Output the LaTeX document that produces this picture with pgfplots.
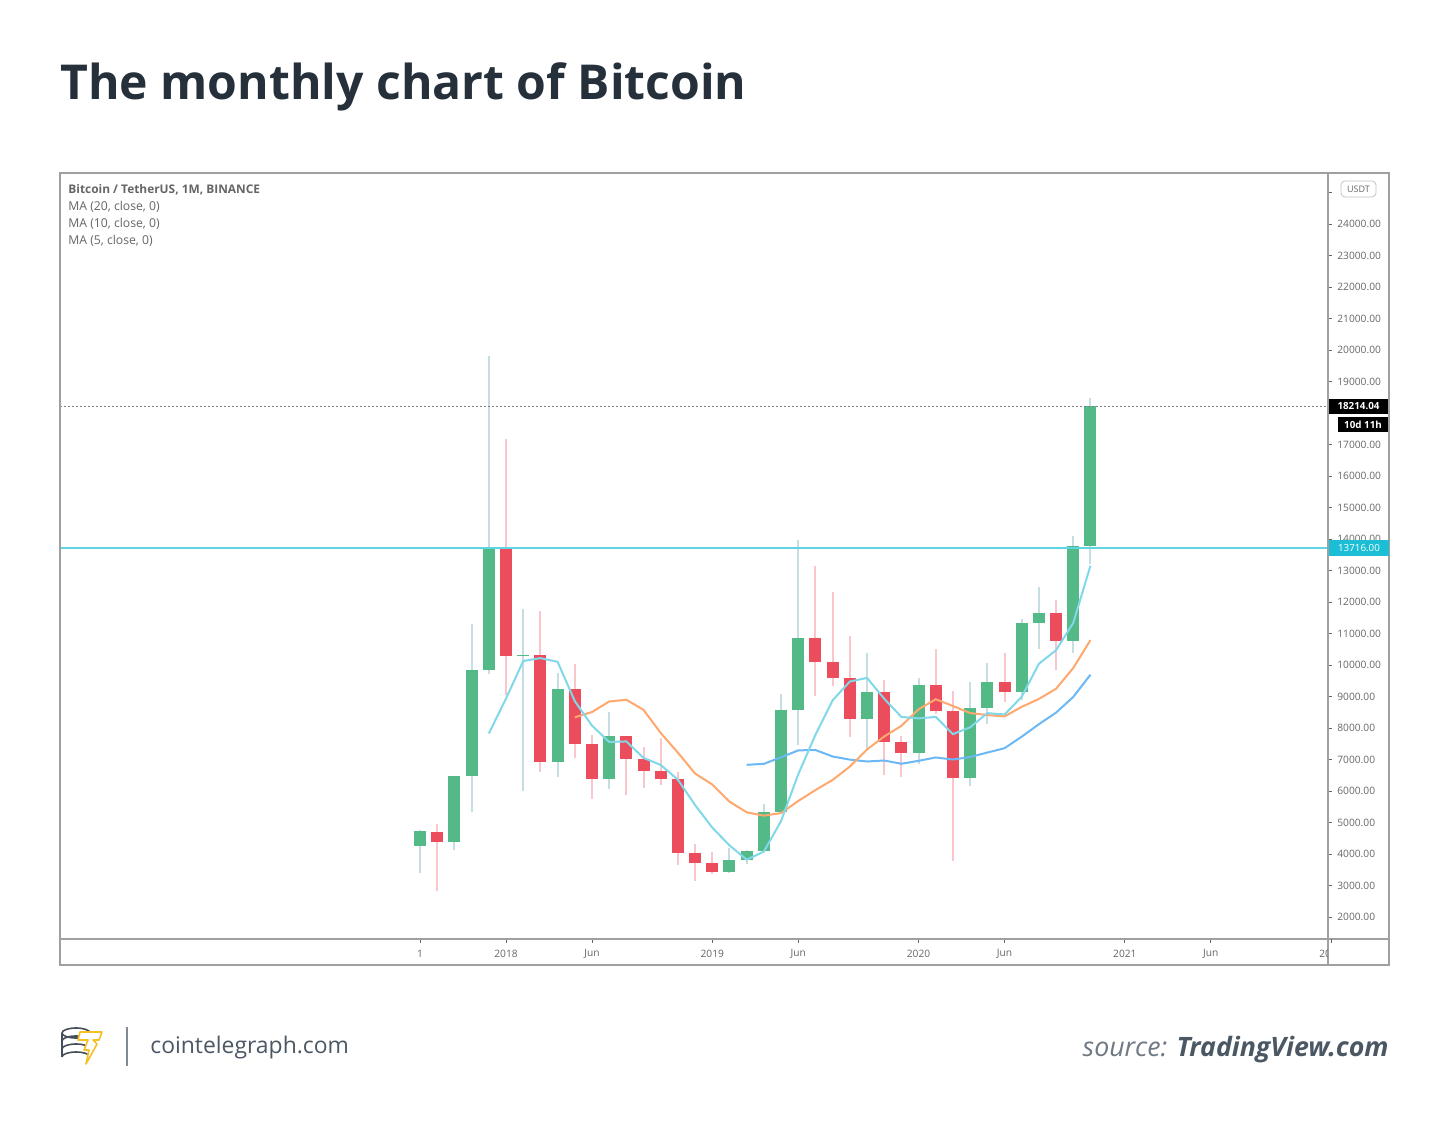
\documentclass[border=0pt]{standalone}
\usepackage{fontspec}
\setmainfont{Open Sans}
\usepackage{pgfplots}
\usepackage{pgfplotstable}
\pgfplotsset{compat=1.18}
\definecolor{titlec}{HTML}{25303A}
\definecolor{bodyG}{HTML}{53B987}
\definecolor{bodyR}{HTML}{EB4D5C}
\definecolor{wickG}{HTML}{C6DEE2}
\definecolor{wickR}{HTML}{F9C6CC}
\definecolor{maF}{HTML}{80D8E8}
\definecolor{maM}{HTML}{FFA86E}
\definecolor{maS}{HTML}{6CB8F5}
\definecolor{hline}{HTML}{5FD4E2}
\definecolor{frame}{HTML}{A0A0A0}
\definecolor{lab}{HTML}{666666}
\definecolor{foot}{HTML}{4B5864}
\definecolor{cybox}{HTML}{1CBED6}
\definecolor{logoY}{HTML}{F5C024}

\pgfplotstableread{
m o h l c
-5 4261.48 4745.42 3400.00 4724.89
-3 4378.51 6470.00 4110.00 6463.00
-2 6463.00 11300.03 5325.01 9838.96
-1 9837.00 19798.68 9722.00 13716.36
1 10285.10 11786.01 6000.01 10326.50
3 6922.00 9759.82 6430.00 9246.01
6 6391.08 8507.04 6070.00 7730.93
13 3434.10 4198.00 3400.00 3813.69
14 3814.26 4140.00 3670.69 4103.95
15 4102.44 5600.00 4067.00 5320.81
16 5321.94 9074.26 5316.20 8555.00
17 8555.00 13970.00 7444.58 10854.10
21 8289.97 10370.00 7300.00 9140.85
24 7195.24 9578.00 6871.04 9352.89
27 6412.14 9468.00 6150.11 8620.00
28 8620.00 10067.00 8117.00 9448.27
30 9138.08 11444.00 8893.03 11335.46
31 11335.46 12468.00 10518.50 11649.51
33 10776.59 14100.00 10374.00 13791.00
34 13791.00 18476.93 13195.05 18214.04
}\greentab

\pgfplotstableread{
m o h l c
-4 4689.89 4939.19 2817.00 4378.51
0 13715.65 17176.24 9035.00 10285.10
2 10325.87 11711.00 6600.10 6923.91
4 9246.01 10020.00 7032.95 7485.01
5 7485.01 7786.69 5750.00 6391.08
7 7730.93 7750.00 5880.00 7011.21
8 7011.21 7410.00 6100.00 6626.57
9 6626.57 7680.00 6205.00 6371.93
10 6369.52 6587.00 3652.66 4041.32
11 4041.27 4312.99 3156.26 3702.90
12 3701.23 4069.80 3349.92 3434.10
18 10854.10 13147.08 9010.00 10080.53
19 10080.53 12325.00 9320.00 9588.74
20 9588.74 10905.87 7710.00 8289.34
22 9140.86 9513.78 6515.00 7541.89
23 7540.63 7750.00 6435.00 7195.23
25 9351.71 10500.00 8445.00 8523.61
26 8523.61 9188.00 3782.13 6410.44
29 9448.27 10380.00 8833.00 9138.55
32 11649.51 12050.85 9825.00 10776.59
}\redtab

\begin{document}
\begin{tikzpicture}
\begin{scope}[x=0.5pt,y=-0.5pt]
\fill[white] (0,0) rectangle (1450,1127);
\node[anchor=base west, inner sep=0, text=titlec, font=\fontsize{24.05}{28}\selectfont\bfseries] at (60,100) {The monthly chart of Bitcoin};
\end{scope}

\begin{axis}[
  at={(30pt,-469.5pt)}, anchor=south west, scale only axis,
  width=634pt, height=383pt,
  xmin=-25.95, xmax=47.82, ymin=1300, ymax=25620,
  axis x line*=bottom, axis y line*=right,
  axis line style={draw=none},
  tick align=outside, major tick length=2pt,
  tick style={draw=lab, line width=0.4pt},
  xtick={-5,0,5,12,17,24,29,36,41},
  xticklabels={1,2018,Jun,2019,Jun,2020,Jun,2021,Jun},
  xticklabel style={font=\fontsize{5.1}{5.5}\selectfont, text=lab, anchor=center, yshift=-5.5pt},
  ytick={2000,3000,4000,5000,6000,7000,8000,9000,10000,11000,12000,13000,14000,15000,16000,17000,19000,20000,21000,22000,23000,24000},
  extra y ticks={18000,25000}, extra y tick labels={},
  scaled y ticks=false,
  yticklabel style={font=\fontsize{5.1}{5.5}\selectfont, text=lab, anchor=west, inner sep=0pt, xshift=2.5pt},
  /pgf/number format/fixed,
  /pgf/number format/fixed zerofill,
  /pgf/number format/precision=2,
  /pgf/number format/1000 sep={},
  /pgf/number format/assume math mode=true,
]
% wicks
\addplot[draw=none, mark=none, forget plot, error bars/.cd, y dir=plus, y explicit, error mark=none,
  error bar style={draw=wickG, line width=1pt}]
  table[x=m, y=l, y error expr=\thisrow{h}-\thisrow{l}] {\greentab};
\addplot[draw=none, mark=none, forget plot, error bars/.cd, y dir=plus, y explicit, error mark=none,
  error bar style={draw=wickR, line width=1pt}]
  table[x=m, y=l, y error expr=\thisrow{h}-\thisrow{l}] {\redtab};
% bodies
\addplot[draw=none, mark=none, forget plot, error bars/.cd, y dir=plus, y explicit, error mark=none,
  error bar style={draw=bodyG, line width=6pt}]
  table[x=m, y=o, y error expr=\thisrow{c}-\thisrow{o}] {\greentab};
\addplot[draw=none, mark=none, forget plot, error bars/.cd, y dir=plus, y explicit, error mark=none,
  error bar style={draw=bodyR, line width=6pt}]
  table[x=m, y=c, y error expr=\thisrow{o}-\thisrow{c}] {\redtab};
% MA 20
\addplot[maS, line width=1pt, mark=none] coordinates {
(14,6830.8)(15,6860.6)(16,7069.4)(17,7289.0)(18,7301.1)(19,7094.7)(20,6994.9)(21,6935.6)
(22,6966.5)(23,6864.0)(24,6957.4)(25,7064.0)(26,6998.0)(27,7078.4)(28,7219.5)(29,7357.8)
(30,7722.5)(31,8119.8)(32,8487.0)(33,8985.8)(34,9691.3)};
% MA 10
\addplot[maM, line width=1pt, mark=none] coordinates {
(4,8338.8)(5,8505.4)(6,8840.7)(7,8895.5)(8,8574.3)(9,7839.8)(10,7215.4)(11,6553.1)
(12,6204.1)(13,5660.9)(14,5322.8)(15,5215.7)(16,5298.1)(17,5682.4)(18,6027.8)(19,6349.5)
(20,6774.3)(21,7318.1)(22,7728.9)(23,8067.0)(24,8591.9)(25,8912.2)(26,8697.8)(27,8474.4)
(28,8411.1)(29,8366.1)(30,8670.7)(31,8921.6)(32,9245.1)(33,9904.6)(34,10790.7)};
% MA 5
\addplot[maF, line width=1pt, mark=none] coordinates {
(-1,7824.3)(0,8936.4)(1,10126.0)(2,10218.2)(3,10099.6)(4,8853.3)(5,8074.5)(6,7555.4)
(7,7572.8)(8,7049.0)(9,6826.3)(10,6356.4)(11,5550.8)(12,4835.4)(13,4272.8)(14,3819.2)
(15,4075.1)(16,5045.5)(17,6529.5)(18,7782.9)(19,8879.8)(20,9473.5)(21,9590.7)(22,8928.3)
(23,8351.2)(24,8304.0)(25,8350.9)(26,7804.8)(27,8020.4)(28,8471.0)(29,8428.2)(30,8990.5)
(31,10038.4)(32,10469.7)(33,11338.2)(34,13153.3)};
% horizontal lines
\addplot[hline, line width=1pt, mark=none] coordinates {(-25.95,13716)(47.82,13716)};
\addplot[gray, line width=0.4pt, dash pattern=on 1pt off 1pt, mark=none] coordinates {(-25.95,18214.04)(47.82,18214.04)};
\end{axis}

\begin{scope}[x=0.5pt,y=-0.5pt]
% frame
\draw[frame, line width=0.75pt] (60,173) rectangle (1389,965);
\draw[frame, line width=0.75pt] (60,939) -- (1389,939);
\draw[frame, line width=0.75pt] (1328,173) -- (1328,965);
% clipped 2022 label
\begin{scope}
\clip (1300,941) rectangle (1327,964);
\node[font=\fontsize{5.1}{5.5}\selectfont, text=lab] at (1331,954) {2022};
\end{scope}
\draw[lab, line width=0.4pt] (1331,939) -- (1331,943);

% legend texts
\node[anchor=base west, inner sep=0, text=lab, font=\fontsize{5.95}{6.5}\selectfont\bfseries] at (68,194) {Bitcoin / TetherUS, 1M, BINANCE};
\node[anchor=base west, inner sep=0, text=lab, font=\fontsize{6.1}{6.5}\selectfont] at (68,211) {MA (20, close, 0)};
\node[anchor=base west, inner sep=0, text=lab, font=\fontsize{6.1}{6.5}\selectfont] at (68,228) {MA (10, close, 0)};
\node[anchor=base west, inner sep=0, text=lab, font=\fontsize{6.1}{6.5}\selectfont] at (68,245) {MA (5, close, 0)};

% price labels
\fill[black] (1329,399) rectangle (1388,414);
\node[text=white, font=\fontsize{4.9}{5}\selectfont\bfseries, inner sep=0] at (1358.5,406.5) {18214.04};
\fill[black] (1338,417) rectangle (1388,432);
\node[text=white, font=\fontsize{4.9}{5}\selectfont\bfseries, inner sep=0] at (1363,424.5) {10d 11h};
\fill[cybox] (1329,540) rectangle (1389,556);
\node[text=white, font=\fontsize{4.9}{5}\selectfont, inner sep=0] at (1359,548) {13716.00};
\draw[lab!40, fill=white, rounded corners=2pt, line width=0.4pt] (1341,181) rectangle (1376,197);
\node[text=lab, font=\fontsize{4.5}{5}\selectfont, inner sep=0] at (1358.5,189) {USDT};

% footer: logo
\begin{scope}[draw=titlec!85, line width=0.8pt]
\draw (76,1033) ellipse [x radius=14, y radius=5];
\draw (62,1033) -- (62,1057);
\draw (90,1033) -- (90,1057);
\draw (62,1041) arc[start angle=180, end angle=360, x radius=14, y radius=5];
\draw (62,1049) arc[start angle=180, end angle=360, x radius=14, y radius=5];
\draw (62,1057) arc[start angle=180, end angle=360, x radius=14, y radius=5];
\end{scope}
\draw[logoY, fill=white, line width=0.8pt, line join=round]
  (80,1032) -- (102,1032) -- (99,1040) -- (93,1040) -- (97,1044) -- (86,1064) -- (89,1050) -- (84,1050) -- (88,1040) -- (78,1040) -- cycle;
\draw[foot!70, line width=1pt] (127,1027) -- (127,1066);
\node[anchor=base west, inner sep=0, text=foot, font=\fontsize{11.45}{13}\selectfont] at (150,1053) {cointelegraph.com};
\node[anchor=base east, inner sep=0, text=foot, font=\fontsize{13.35}{15}\selectfont] at (1389,1056) {\itshape\color{foot!80} source: \bfseries\color{foot} TradingView.com};
\end{scope}
\end{tikzpicture}
\end{document}
